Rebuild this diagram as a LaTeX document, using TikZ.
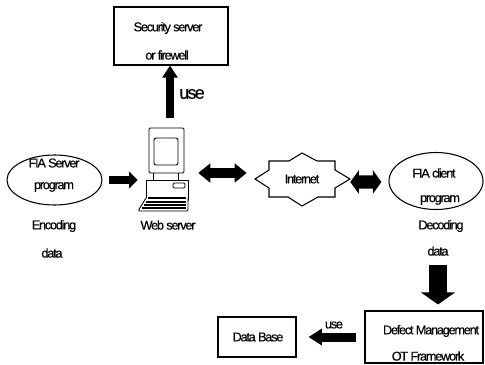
\documentclass[tikz,border=0pt]{standalone}
\usepackage{fontspec}
\setmainfont[LetterSpace=-10,FakeBold=0.25]{Liberation Sans}
\usetikzlibrary{arrows.meta,positioning,shapes.geometric}
\tikzset{
  outline/.style={draw=black,line width=0.8pt,fill=white},
  boxnode/.style={outline,rectangle,inner sep=0pt},
  oval/.style={outline,ellipse,inner sep=0pt},
  lbl/.style={inner sep=0pt,font=\fontsize{9.6pt}{11pt}\selectfont,text=black},
  biglbl/.style={inner sep=0pt,font=\fontsize{13.5pt}{15pt}\selectfont,text=black},
  anchorbox/.style={inner sep=0pt,rectangle},
  blockup/.style={line width=6pt,-{Triangle[length=9pt,width=11pt]}},
  blocksmall/.style={line width=6.5pt,-{Triangle[length=6.5pt,width=12.5pt]}},
  blockdouble/.style={line width=7.5pt,{Triangle[length=9pt,width=14pt]}-{Triangle[length=9pt,width=14pt]}},
  blockfat/.style={line width=10pt,{Triangle[length=6.5pt,width=17.5pt]}-{Triangle[length=6.5pt,width=17.5pt]}},
  blockdown/.style={line width=13pt,-{Triangle[length=9pt,width=25pt]}},
  blockleft/.style={line width=6.75pt,-{Triangle[length=10pt,width=12pt]}},
  pc/.style={draw=black,line width=0.7pt,fill=white,line join=round}
}
\begin{document}
\begin{tikzpicture}[x=0.75pt,y=-0.75pt]
\useasboundingbox (0,0) rectangle (485,364);
% boxes and ovals
\node[boxnode,minimum width=85.5pt,minimum height=43.5pt] (sec) at (171,36) {};
\node[oval,minimum width=71.25pt,minimum height=37.5pt] (srv) at (54.5,180) {};
\node[oval,minimum width=70.5pt,minimum height=42.75pt] (cli) at (436,181) {};
\node[boxnode,minimum width=88.5pt,minimum height=39pt] (def) at (424,337) {};
\node[boxnode,minimum width=58.5pt,minimum height=30pt] (db) at (257,337) {};
% computer
\node[anchorbox,minimum width=31.5pt,minimum height=63pt] (web) at (167,170) {};
\draw[pc,rounded corners=1pt] (149,128) rectangle (184,173);
\draw[pc,rounded corners=1.5pt] (154,138) rectangle (178,165);
\draw[pc] (153,173) -- (153,180) (178,173) -- (178,180);
\draw[pc] (146,180) -- (188,180) -- (188,200) -- (146,200) -- cycle;
\draw[pc,rounded corners=1pt] (173,183) rectangle (185,188);
\draw[pc,rounded corners=1pt] (146,198) -- (138,211) -- (188,211) -- (188,198);
\draw[line width=0.9pt] (148,198) -- (186,198) (146,202) -- (186,202) (144,205) -- (186,205) (142,208) -- (186,208);
% star
\node[anchorbox,minimum width=71pt,minimum height=40pt] (net) at (302,179.5) {};
\draw[outline] (255,179) -- (269,170) -- (269,161) -- (289,161) -- (302,153) -- (317,161) -- (335,161)
  -- (335,170) -- (350,179) -- (335,188) -- (335,197) -- (318,197) -- (302,206) -- (288,197)
  -- (269,197) -- (269,188) -- cycle;
% connectors
\draw[blockup] ([xshift=2.25pt,yshift=7.5pt]web.north) -- ([xshift=-0.75pt]sec.south);
\draw[blocksmall,shorten <=5pt,shorten >=6pt] (srv.east) -- (web.west |- srv.east);
\draw[blockdouble,shorten <=7.5pt,shorten >=5.8pt] ([yshift=-2.25pt]web.east) -- ([yshift=4.875pt]net.west);
\draw[blockfat,shorten <=0.5pt,shorten >=5.25pt] ([yshift=-1.9pt]net.east) -- ([yshift=-0.75pt]cli.west);
\draw[blockdown,shorten <=41pt,shorten >=4.5pt] ([xshift=1.5pt]cli.south) -- ([xshift=10.5pt]def.north);
\draw[blockleft,shorten <=6pt,shorten >=9pt] (def.west) -- (db.east);
% labels
\node[lbl] (t1) at (168,28) {Security server};
\node[lbl] (t2) at (167,55) {or firewell};
\node[biglbl] (t3) at (192,94) {use};
\node[lbl] (t4) at (54,163) {FIA Server};
\node[lbl] (t5) at (54,187) {program};
\node[lbl] (t6) at (54,226) {Encoding};
\node[lbl] (t7) at (52,253) {data};
\node[lbl] (t8) at (168,225) {Web server};
\node[lbl] (t9) at (302,179) {Internet};
\node[lbl] (t10) at (434,173) {FIA client};
\node[lbl] (t11) at (440,200) {program};
\node[lbl] (t12) at (441,226) {Decoding};
\node[lbl] (t13) at (438,251) {data};
\node[lbl] (t14) at (431,331) {Defect Management};
\node[lbl] (t15) at (428,356) {OT Framework};
\node[lbl] (t16) at (258,337) {Data Base};
\node[lbl] (t17) at (334,325) {use};
\end{tikzpicture}
\end{document}
